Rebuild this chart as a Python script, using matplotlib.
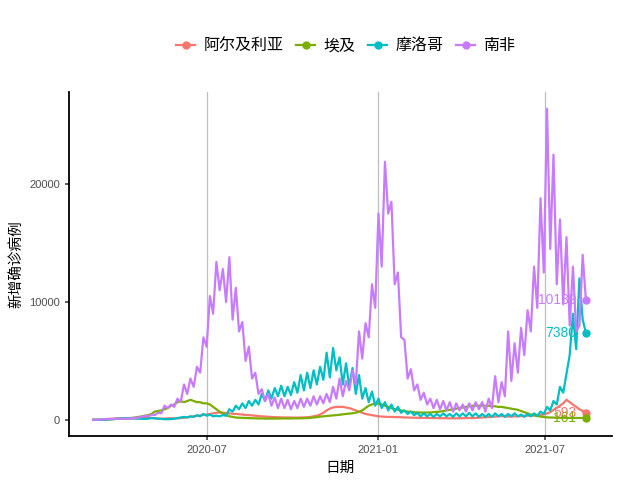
import matplotlib
matplotlib.use('Agg')
import matplotlib.pyplot as plt
import matplotlib.dates as mdates
import pandas as pd

plt.rcParams['font.family'] = ['Liberation Sans', 'Noto Sans CJK SC', 'DejaVu Sans']

# half-week sample points, 2020-02-29 .. 2021-08-14
dates = pd.date_range('2020-02-29', periods=153, freq='84h')

countries = ['阿尔及利亚', '埃及', '摩洛哥', '南非']
colors = ['#F8766D', '#7CAE00', '#00BFC4', '#C77CFF']

algeria = [0, 5, 10, 30, 60, 80, 100, 100, 120, 100, 100,
           110, 120, 130, 150, 160, 180, 180, 170, 140, 120,
           110, 110, 130, 140, 120, 130, 150, 180, 220, 260,
           300, 330, 380, 420, 450, 500, 550, 600, 620, 600,
           580, 550, 520, 500, 480, 450, 420, 400, 380, 350,
           320, 300, 280, 260, 240, 230, 220, 210, 200, 200,
           200, 190, 190, 200, 210, 220, 250, 300, 350, 450,
           600, 800, 950, 1050, 1100, 1100, 1100, 1050, 1000, 900,
           800, 700, 600, 500, 450, 400, 350, 300, 280, 260,
           250, 250, 240, 230, 220, 200, 200, 190, 180, 180,
           170, 170, 160, 160, 150, 150, 140, 140, 140, 130,
           130, 130, 140, 140, 150, 150, 160, 170, 180, 200,
           220, 240, 260, 280, 300, 320, 300, 280, 280, 300,
           300, 320, 330, 350, 350, 380, 400, 420, 450, 550,
           650, 850, 1000, 1200, 1400, 1700, 1500, 1300, 1100, 900,
           750, 593]

egypt = [0, 5, 10, 20, 30, 40, 60, 80, 100, 120, 150,
         150, 170, 200, 250, 300, 350, 400, 500, 700, 750,
         800, 900, 1000, 1200, 1300, 1500, 1600, 1500, 1600, 1700,
         1600, 1500, 1500, 1400, 1400, 1300, 1100, 900, 700, 550,
         400, 300, 250, 200, 180, 170, 160, 150, 140, 130,
         120, 120, 110, 110, 110, 110, 110, 120, 120, 120,
         120, 130, 130, 130, 140, 150, 170, 200, 230, 270,
         300, 330, 350, 380, 400, 430, 470, 500, 530, 560,
         600, 700, 800, 1000, 1200, 1300, 1400, 1350, 1300, 1200,
         1100, 1000, 900, 850, 800, 750, 700, 680, 650, 630,
         620, 620, 620, 630, 650, 680, 700, 750, 800, 850,
         900, 950, 1000, 1050, 1100, 1150, 1200, 1200, 1200, 1200,
         1200, 1200, 1150, 1150, 1100, 1100, 1050, 1000, 950, 900,
         850, 750, 650, 550, 450, 380, 320, 280, 240, 210,
         200, 190, 180, 170, 170, 170, 160, 160, 160, 160,
         160, 161]

morocco = [0, 0, 5, 10, 20, 40, 60, 80, 100, 120, 150,
           150, 130, 120, 100, 90, 80, 100, 150, 120, 100,
           80, 60, 50, 70, 100, 150, 200, 250, 200, 300,
           250, 400, 300, 500, 350, 450, 300, 350, 300, 400,
           350, 900, 700, 1200, 900, 1400, 1000, 1600, 1200, 1700,
           1300, 2200, 1600, 2500, 1800, 2700, 2000, 2900, 2000, 2800,
           2100, 3200, 2300, 3800, 2500, 4000, 2700, 4200, 3000, 4500,
           3400, 5700, 3600, 6100, 4200, 5300, 3000, 4800, 2800, 4400,
           2200, 3800, 1800, 2700, 1500, 2400, 1200, 1800, 1000, 1500,
           800, 1300, 700, 1100, 600, 800, 500, 700, 400, 600,
           300, 550, 300, 500, 250, 500, 300, 550, 300, 500,
           250, 550, 300, 550, 300, 600, 300, 550, 250, 500,
           250, 500, 250, 550, 300, 500, 250, 500, 300, 550,
           300, 450, 250, 500, 300, 550, 350, 700, 500, 1100,
           800, 1600, 1300, 2800, 2300, 3900, 5500, 9000, 6000, 12000,
           8500, 7380]

south_africa = [0, 10, 20, 40, 60, 80, 70, 100, 80, 90, 120,
                100, 150, 170, 200, 250, 350, 300, 450, 400, 600,
                550, 1200, 1000, 1300, 1100, 1800, 1500, 3000, 2200, 3500,
                2800, 4500, 4000, 7000, 6200, 10500, 9000, 13400, 11000, 12800,
                10000, 13800, 8500, 11200, 7500, 8300, 5000, 6200, 3500, 4000,
                2200, 2600, 1600, 2200, 1200, 1900, 1000, 1800, 1000, 1700,
                900, 1600, 1000, 1800, 1100, 1800, 1200, 2000, 1300, 2000,
                1400, 2200, 1500, 2800, 1800, 3500, 2000, 3300, 2500, 4200,
                3000, 7500, 5200, 8200, 7000, 11500, 9500, 17500, 13000, 21900,
                17500, 18500, 11500, 12500, 7000, 6800, 3500, 4300, 2500, 3000,
                1700, 2300, 1300, 1800, 1000, 1700, 900, 1600, 800, 1500,
                700, 1400, 800, 1300, 700, 1400, 800, 1500, 900, 1500,
                700, 1800, 1000, 3700, 1500, 3200, 2000, 7500, 3300, 6500,
                4000, 7800, 5500, 9300, 7500, 13000, 9500, 18800, 12500, 26400,
                14500, 22500, 11500, 17000, 9800, 15500, 8000, 13000, 7500, 8000,
                14000, 10139]

series = [algeria, egypt, morocco, south_africa]

fig = plt.figure(figsize=(6.4, 4.8), dpi=100)
ax = fig.add_axes([0.108, 0.092, 0.848, 0.716])

for name, vals, c in zip(countries, series, colors):
    ax.plot(dates, vals, color=c, lw=1.6, label=name,
            marker='o', markevery=[len(vals) - 1], markersize=5)
    ax.annotate(str(vals[-1]), (dates[-1], vals[-1]), xytext=(-7, 0),
                textcoords='offset points', ha='right', va='center',
                color=c, fontsize=10)

ax.set_xlim(pd.Timestamp('2020-02-03'), pd.Timestamp('2021-09-11'))
ax.set_ylim(-1356, 27800)
ax.set_yticks([0, 10000, 20000])
ax.set_xticks([pd.Timestamp('2020-07-01'), pd.Timestamp('2021-01-01'),
               pd.Timestamp('2021-07-01')])
ax.xaxis.set_major_formatter(mdates.DateFormatter('%Y-%m'))
ax.grid(axis='x', color='#BEBEBE', lw=0.9)
ax.set_axisbelow(True)

for s in ['top', 'right']:
    ax.spines[s].set_visible(False)
for s in ['left', 'bottom']:
    ax.spines[s].set_linewidth(1.3)
ax.tick_params(axis='both', colors='#333333', labelcolor='#4D4D4D',
               labelsize=8, length=3, width=1.1)

ax.set_xlabel('日期', fontsize=10.5)
ax.set_ylabel('新增确诊病例', fontsize=10.5)

fig.legend(loc='upper center', bbox_to_anchor=(0.54, 0.95), ncol=4,
           frameon=False, fontsize=11.5, handlelength=1.2, handletextpad=0.5,
           columnspacing=0.8)

fig.savefig('out.png', dpi=100)
